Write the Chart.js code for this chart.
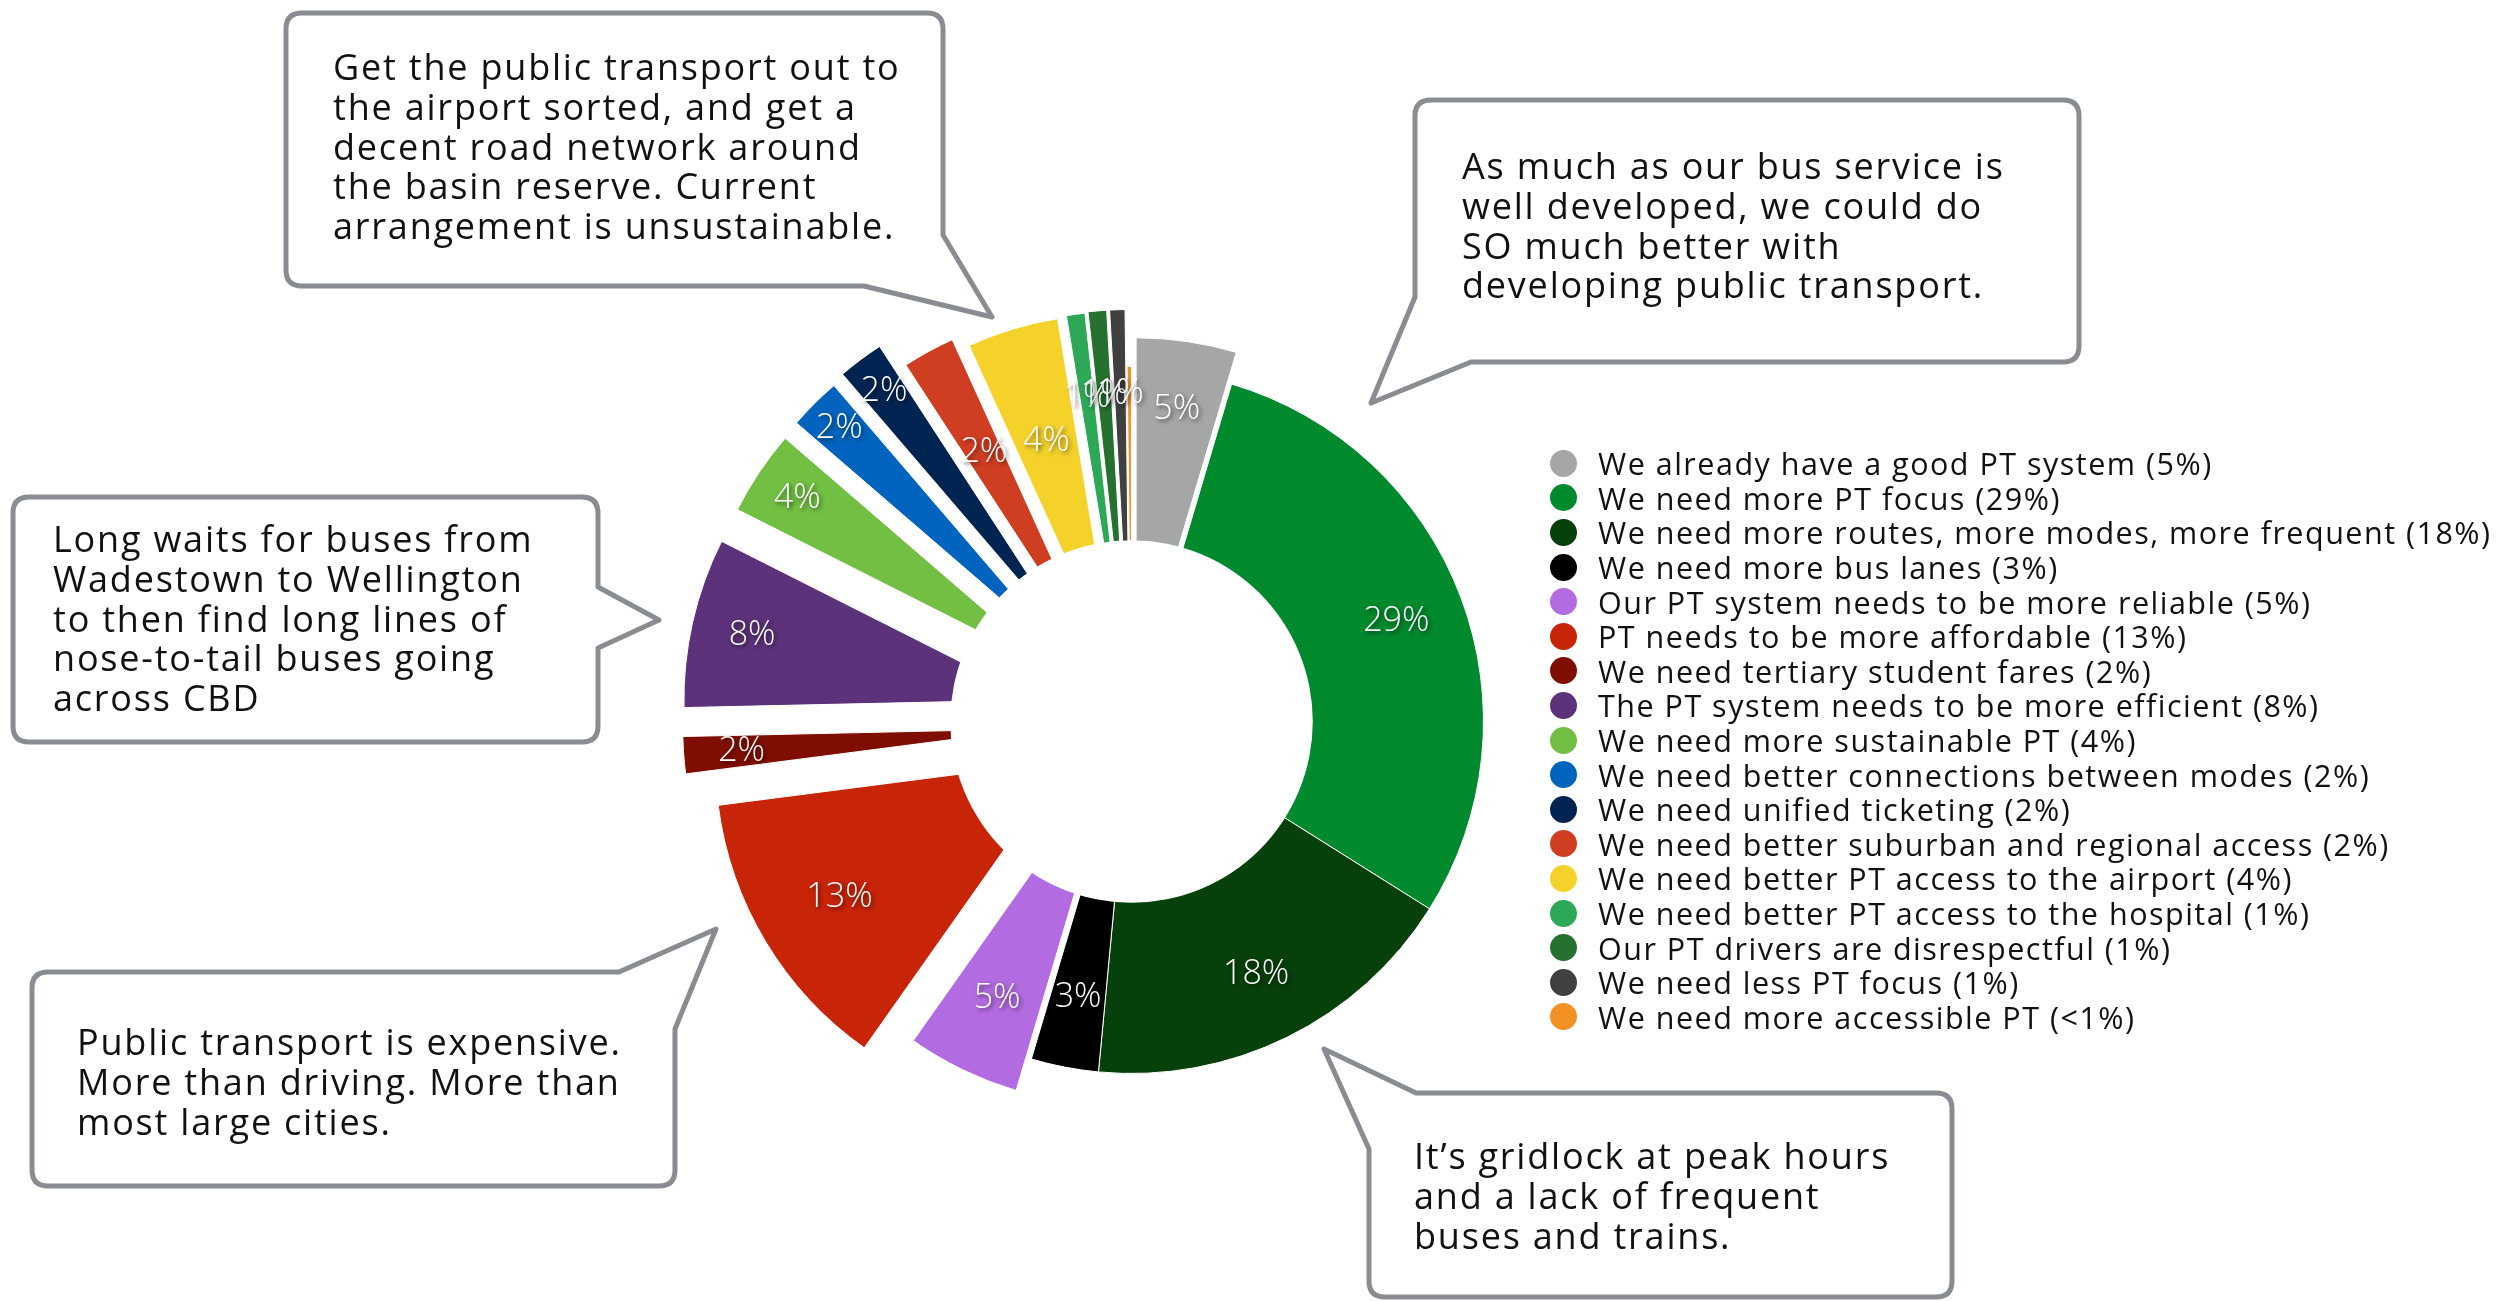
<!DOCTYPE html>
<html>
<head>
<meta charset="utf-8">
<title>What people said about public transport</title>
<script src="https://cdn.jsdelivr.net/npm/chart.js@4.4.1/dist/chart.umd.min.js"></script>
<style>
  html, body { margin: 0; padding: 0; background: #fff; }
  #wrap { position: relative; width: 2520px; height: 1301px; overflow: hidden; font-family: 'Open Sans', sans-serif; }
  #chart, #callouts { position: absolute; left: 0; top: 0; }
  #legend { position: absolute; left: 1550px; top: 446px; margin: 0; padding: 0; list-style: none; }
  #legend li { display: flex; align-items: center; height: 34.6px; font-size: 30.5px; letter-spacing: 1.5px; color: #111; white-space: nowrap; }
  #legend .dot { width: 27px; height: 27px; border-radius: 50%; margin-right: 21px; flex: none; }
  #callouts text { font-family: 'Open Sans', sans-serif; font-size: 36px; letter-spacing: 1.8px; fill: #111; }
</style>
</head>
<body>
<div id="wrap">
  <canvas id="chart" width="2520" height="1301"></canvas>
  <svg id="callouts" width="2520" height="1301" xmlns="http://www.w3.org/2000/svg"></svg>
  <ul id="legend"></ul>
</div>
<script>
const categories = [
  'We already have a good PT system',
  'We need more PT focus',
  'We need more routes, more modes, more frequent',
  'We need more bus lanes',
  'Our PT system needs to be more reliable',
  'PT needs to be more affordable',
  'We need tertiary student fares',
  'The PT system needs to be more efficient',
  'We need more sustainable PT',
  'We need better connections between modes',
  'We need unified ticketing',
  'We need better suburban and regional access',
  'We need better PT access to the airport',
  'We need better PT access to the hospital',
  'Our PT drivers are disrespectful',
  'We need less PT focus',
  'We need more accessible PT'
];

// share of comments in %
const shares = [4.6, 29.4, 17.6, 3.1, 5.2, 13.2, 1.7, 7.8, 3.9, 2.4, 2.1, 2.4, 4.2, 0.85, 0.85, 0.7, 0.2];

const colors = ['#a4a7a5', '#00892d', '#06400a', '#000000', '#b36be1', '#c72408', '#800e00', '#5c327a',
  '#72bf44', '#0064be', '#002452', '#d03e22', '#f5d22a', '#2da856', '#267030', '#404040', '#f29224'];

const quotes = [
  ['Get the public transport out to', 'the airport sorted, and get a', 'decent road network around', 'the basin reserve. Current', 'arrangement is unsustainable.'],
  ['As much as our bus service is', 'well developed, we could do', 'SO much better with', 'developing public transport.'],
  ['Long waits for buses from', 'Wadestown to Wellington', 'to then find long lines of', 'nose-to-tail buses going', 'across CBD'],
  ['Public transport is expensive.', 'More than driving. More than', 'most large cities.'],
  ['It\u2019s gridlock at peak hours', 'and a lack of frequent', 'buses and trains.']
];

function pctText(v) {
  return v < 0.5 ? '<1%' : Math.round(v) + '%';
}

// pulls slices out from the centre by a fixed distance and puts a white hole on top
const explodePlugin = {
  id: 'explode',
  beforeDatasetDraw(chart, args, opts) {
    const ctx = chart.ctx;
    args.meta.data.forEach((arc, i) => {
      const mid = (arc.startAngle + arc.endAngle) / 2;
      const d = opts.shift[i] || 0;
      ctx.save();
      ctx.translate(Math.cos(mid) * d, Math.sin(mid) * d);
      arc.draw(ctx);
      ctx.restore();
    });
    return false;
  },
  afterDatasetsDraw(chart, args, opts) {
    const ctx = chart.ctx;
    const arcs = chart.getDatasetMeta(0).data;
    const cx = arcs[0].x, cy = arcs[0].y;
    ctx.save();
    ctx.beginPath();
    ctx.arc(cx, cy, arcs[0].outerRadius * opts.hole, 0, Math.PI * 2);
    ctx.fillStyle = '#fff';
    ctx.fill();

    ctx.font = '300 34px "Open Sans"';
    ctx.fillStyle = '#fff';
    ctx.textAlign = 'center';
    ctx.textBaseline = 'middle';
    ctx.shadowColor = 'rgba(0,0,0,0.6)';
    ctx.shadowBlur = 4;
    ctx.shadowOffsetX = 2;
    ctx.shadowOffsetY = 2;
    const data = chart.data.datasets[0].data;
    arcs.forEach((arc, i) => {
      if (data[i] < 0.5) return;
      const mid = (arc.startAngle + arc.endAngle) / 2;
      const r = (opts.shift[i] || 0) + opts.labelRadius[i];
      ctx.fillText(pctText(data[i]), cx + Math.cos(mid) * r, cy + Math.sin(mid) * r);
    });
    ctx.restore();
  }
};

const chart = new Chart(document.getElementById('chart'), {
  type: 'pie',
  data: {
    labels: categories,
    datasets: [{
      data: shares,
      backgroundColor: colors,
      borderColor: '#fff',
      borderWidth: 1
    }]
  },
  options: {
    responsive: false,
    animation: false,
    events: [],
    radius: 352,
    layout: { padding: { left: 0, right: 257, top: 142, bottom: 0 } },
    plugins: {
      legend: { display: false },
      tooltip: { enabled: false },
      explode: {
        hole: 0.515,
        shift: [32, 0, 0, 0, 35, 75, 97, 98, 96, 97, 100, 70, 58, 59, 60, 60, 3],
        labelRadius: [283, 283, 282, 281, 273, 266, 294, 291, 306, 317, 313, 237, 235, 268, 268, 268, 0]
      }
    }
  },
  plugins: [explodePlugin]
});

// html legend built from the chart's own legend items
const legendEl = document.getElementById('legend');
chart.options.plugins.legend.labels.generateLabels(chart).forEach((item, i) => {
  const li = document.createElement('li');
  const dot = document.createElement('span');
  dot.className = 'dot';
  dot.style.background = item.fillStyle;
  li.appendChild(dot);
  li.appendChild(document.createTextNode(item.text + ' (' + pctText(shares[i]) + ')'));
  legendEl.appendChild(li);
});

// speech bubbles
const NS = 'http://www.w3.org/2000/svg';
const svg = document.getElementById('callouts');
const bubbles = [
  { pts: [[286, 13, 1], [943, 13, 1], [943, 235], [992, 317], [864, 286], [286, 286, 1]], x: 333, y: 80 },
  { pts: [[1415, 100, 1], [2079, 100, 1], [2079, 362, 1], [1471, 362], [1371, 403], [1415, 297]], x: 1462, y: 179 },
  { pts: [[13, 497, 1], [598, 497, 1], [598, 587], [659, 620], [598, 648], [598, 742, 1], [13, 742, 1]], x: 53, y: 552 },
  { pts: [[32, 972, 1], [619, 972], [716, 929], [675, 1029], [675, 1186, 1], [32, 1186, 1]], x: 77, y: 1055 },
  { pts: [[1416, 1093], [1952, 1093, 1], [1952, 1297, 1], [1369, 1297, 1], [1369, 1149], [1324, 1049]], x: 1414, y: 1169 }
];

function toward(x, y, tx, ty, r) {
  const len = Math.hypot(tx - x, ty - y);
  return [x + (tx - x) / len * r, y + (ty - y) / len * r];
}

function outline(pts, r) {
  let d = '';
  pts.forEach(([x, y, round], i) => {
    const cmd = i ? 'L' : 'M';
    if (!round) { d += cmd + x + ' ' + y + ' '; return; }
    const p = pts[(i - 1 + pts.length) % pts.length];
    const q = pts[(i + 1) % pts.length];
    const a = toward(x, y, p[0], p[1], r);
    const b = toward(x, y, q[0], q[1], r);
    d += cmd + a[0] + ' ' + a[1] + ' Q' + x + ' ' + y + ' ' + b[0] + ' ' + b[1] + ' ';
  });
  return d + 'Z';
}

bubbles.forEach((b, k) => {
  const path = document.createElementNS(NS, 'path');
  path.setAttribute('d', outline(b.pts, 16));
  path.setAttribute('fill', '#fff');
  path.setAttribute('stroke', '#898c90');
  path.setAttribute('stroke-width', '5');
  path.setAttribute('stroke-linejoin', 'round');
  svg.appendChild(path);
  const text = document.createElementNS(NS, 'text');
  quotes[k].forEach((line, j) => {
    const t = document.createElementNS(NS, 'tspan');
    t.setAttribute('x', b.x);
    t.setAttribute('y', b.y + j * 39.8);
    t.textContent = line;
    text.appendChild(t);
  });
  svg.appendChild(text);
});
</script>
</body>
</html>
